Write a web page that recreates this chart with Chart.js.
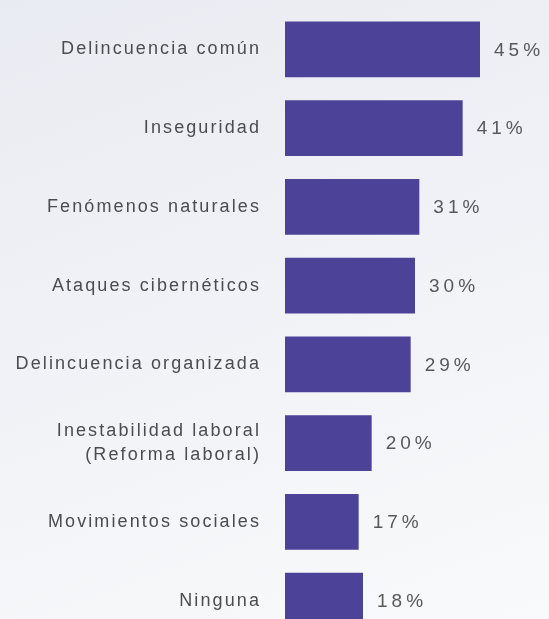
<!DOCTYPE html>
<html>
<head>
<meta charset="utf-8">
<script src="https://cdn.jsdelivr.net/npm/chart.js@4"></script>
<style>
  html, body { margin: 0; padding: 0; overflow: hidden; }
  body {
    width: 549px; height: 619px;
    background: linear-gradient(160deg, #e9ebf2 0%, #f2f3f7 55%, #f9fafb 100%);
  }
  #wrap { width: 549px; height: 640px; }
</style>
</head>
<body>
<div id="wrap"><canvas id="chartRiesgos"></canvas></div>
<script>
// categorías y porcentajes
const categorias = [
    'Delincuencia común',
    'Inseguridad',
    'Fenómenos naturales',
    'Ataques cibernéticos',
    'Delincuencia organizada',
    ['Inestabilidad laboral', '(Reforma laboral)'],
    'Movimientos sociales',
    'Ninguna'
];
const porcentajes = [45, 41, 31, 30, 29, 20, 17, 18];

// etiqueta con el valor al final de cada barra
const etiquetasValor = {
    id: 'etiquetasValor',
    beforeDraw(chart) {
        chart.ctx.letterSpacing = '2.1px';
    },
    afterDatasetsDraw(chart) {
        const ctx = chart.ctx;
        const meta = chart.getDatasetMeta(0);
        ctx.save();
        ctx.letterSpacing = '4px';
        ctx.font = '19px "Liberation Sans", Arial, sans-serif';
        ctx.fillStyle = '#58585c';
        ctx.textAlign = 'left';
        ctx.textBaseline = 'middle';
        meta.data.forEach((bar, i) => {
            ctx.fillText(porcentajes[i] + '%', bar.x + 14, bar.y + 1);
        });
        ctx.restore();
    },
    afterDraw(chart) {
        chart.ctx.letterSpacing = '0px';
    }
};

const ctx = document.getElementById('chartRiesgos').getContext('2d');

new Chart(ctx, {
    type: 'bar',
    data: {
        labels: categorias,
        datasets: [{
            data: porcentajes,
            backgroundColor: '#4c4297',
            borderWidth: 0,
            categoryPercentage: 1,
            barPercentage: 0.71
        }]
    },
    plugins: [etiquetasValor],
    options: {
        indexAxis: 'y',
        responsive: true,
        maintainAspectRatio: false,
        animation: false,
        layout: {
            padding: { top: 10, bottom: 0, left: 0, right: 4 }
        },
        scales: {
            x: {
                display: false,
                min: 0,
                max: 60
            },
            y: {
                afterFit(scale) {
                    scale.width = 285;
                    // sin margen extra arriba/abajo por las etiquetas
                    scale.paddingTop = 0;
                    scale.paddingBottom = 0;
                },
                border: { display: false },
                grid: { display: false, drawTicks: false },
                ticks: {
                    padding: 24,
                    color: '#4c4c50',
                    font: {
                        family: '"Liberation Sans", Arial, sans-serif',
                        size: 18,
                        lineHeight: 1.3
                    }
                }
            }
        },
        plugins: {
            legend: { display: false },
            tooltip: { enabled: false }
        }
    }
});
</script>
</body>
</html>
